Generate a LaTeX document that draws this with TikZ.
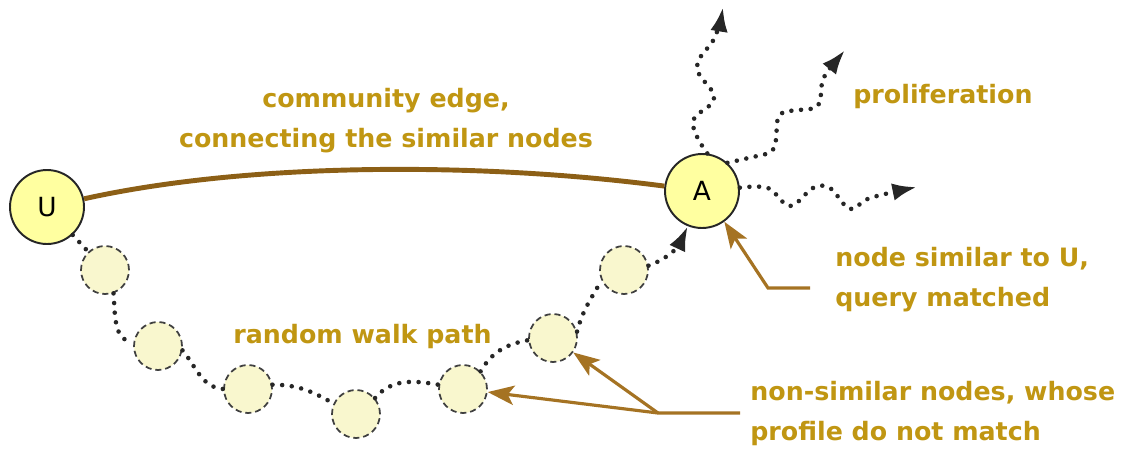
\documentclass[tikz,border=0pt]{standalone}
\usepackage{fontspec}
\setmainfont{DejaVu Sans}
\usetikzlibrary{arrows.meta}
\definecolor{labelgold}{RGB}{192,150,18}
\definecolor{pointbrown}{RGB}{165,115,35}
\definecolor{edgebrown}{RGB}{140,95,22}
\definecolor{peerfill}{RGB}{255,255,160}
\definecolor{hopfill}{RGB}{249,247,206}

\begin{document}
\begin{tikzpicture}[x=0.02cm,y=0.02cm,
  peer/.style={circle,draw=black!85,line width=1.1pt,fill=peerfill,minimum size=1.48cm,inner sep=0pt,font=\fontsize{15}{18}\selectfont},
  hop/.style={circle,draw=black!75,dash pattern=on 3.5pt off 2.2pt,line width=1pt,fill=hopfill,minimum size=0.96cm,inner sep=0pt},
  walk/.style={black!85,line width=2.6pt,dash pattern=on 0pt off 5.5pt,line cap=round},
  walktip/.style={-{Latex[length=14pt,width=10pt]}},
  pointer/.style={pointbrown,line width=1.8pt,-{Stealth[length=15pt,width=11pt,inset=3.5pt]}},
  caption/.style={labelgold,font=\fontsize{14.4}{22.7}\selectfont\bfseries,inner sep=0pt}]
\useasboundingbox (0,0) rectangle (1142,-461);

\node[peer] (U) at (47,-207) {U};
\node[peer] (A) at (702,-191) {A};
\foreach \n/\x/\y in {1/105/270, 2/158/346, 3/248/389, 4/356/414, 5/463/389, 6/553/338, 7/624/270}
  \node[hop] (h\n) at (\x,-\y) {};

\draw[edgebrown,line width=2.8pt] (U) .. controls (250,-162) and (480,-162) .. (A);

\draw[walk] (U) -- (h1);
\draw[walk] (h1.-70) to[out=-85,in=180] (h2.170);
\draw[walk] (h2.-10) to[out=-50,in=175] (h3.180);
\draw[walk] (h3.10) to[out=0,in=150] (h4.155);
\draw[walk] (h4.40) to[out=50,in=170] (h5.170);
\draw[walk] (h5.45) to[out=60,in=190] (h6.185);
\draw[walk] (h6.15) to[out=75,in=240] (h7.205);
\draw[walk,walktip] (h7.10) to[out=20,in=-115] (A.-112);

\coordinate (outN) at (723,-7);
\coordinate (outNE) at (845,-50);
\coordinate (outE) at (917,-187);
\draw[walk,walktip] plot[smooth,tension=0.7] coordinates {(A.82) (693,-122) (714,-98) (697,-67) (715,-37) (outN)};
\draw[walk,walktip,rounded corners=5pt] (A.48) -- (775,-152) -- (778,-112) -- (820,-108) -- (822,-78) -- (outNE);
\draw[walk,walktip] plot[smooth,tension=0.6] coordinates {(A.5) (768,-188) (790,-206) (813,-188) (830,-188) (850,-209) (870,-198) (outE)};

\coordinate (simtail) at (810,-288);
\coordinate (simbend) at (768,-288);
\draw[pointer] (simtail) -- (simbend) -- (A.-54);
\coordinate (difftail) at (740,-413);
\coordinate (diffjoint) at (658,-413);
\draw[pointer] (difftail) -- (diffjoint) -- (h5);
\draw[pointer] (diffjoint) -- (h6);

\node[caption,anchor=north,align=center] (edgenote) at (386,-88) {community edge,\\connecting the similar nodes};
\node[caption,anchor=base west] (prolif) at (853,-103) {proliferation};
\node[caption,anchor=north west,align=left] (simnote) at (835,-247) {node similar to U,\\query matched};
\node[caption,anchor=north west,align=left] (diffnote) at (750,-381) {non-similar nodes, whose\\profile do not match};
\node[caption,anchor=base west] (walknote) at (233,-343) {random walk path};
\end{tikzpicture}
\end{document}
